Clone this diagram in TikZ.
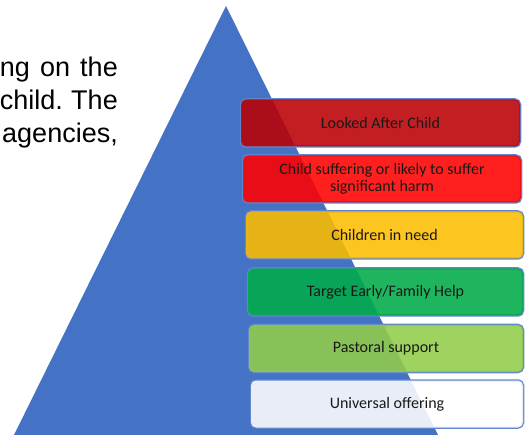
\documentclass[tikz,border=0pt]{standalone}
\usepackage{fontspec}
\setmainfont{Carlito}
\newfontfamily\arialfont{Liberation Sans}
\usepackage{tikz}
\frenchspacing

\definecolor{pyramidblue}{HTML}{4472C4}
\definecolor{lacred}{HTML}{BB0004}
\definecolor{harmred}{HTML}{FF0000}
\definecolor{needyellow}{HTML}{FDBD00}
\definecolor{helpgreen}{HTML}{00AB48}
\definecolor{pastoralgreen}{HTML}{91CD49}
\definecolor{universalwhite}{HTML}{FFFFFF}

\tikzset{
  tier/.style={rounded corners=5pt, minimum height=47pt, inner sep=0pt,
    fill opacity=0.88, text opacity=1, align=center, text=black!90,
    font=\fontsize{16}{17}\selectfont,
    preaction={draw=pyramidblue!85, line width=2.5pt}},
  bodytext/.style={anchor=base east, inner sep=0pt}
}

\begin{document}
\begin{tikzpicture}[x=1pt,y=-1pt]
          \useasboundingbox (0,0) rectangle (527,435);
          % Draw text cut at the left
          \node[bodytext, font=\arialfont\fontsize{27}{33}\selectfont] (lineone) at (118,77) {\makebox[118pt][s]{ng on the}};
          \node[bodytext, font=\arialfont\fontsize{27}{33}\selectfont] (linetwo) at (118,110) {\makebox[118pt][s]{child. The}};
          \node[bodytext, font=\arialfont\fontsize{27}{33}\selectfont] (linethree) at (118,143) {agencies,};
          % Draw pyramid
          \fill[pyramidblue] (226,6) -- (438,435) -- (14,435) -- cycle;
          % Draw tiers
          \node[tier, fill=lacred, minimum width=279pt] (lac) at (380.5,123) {Looked After Child};
          \node[tier, fill=harmred, minimum width=278pt] (harm) at (382,179) {Child suffering or likely to suffer\\significant harm};
          \node[tier, fill=needyellow, minimum width=277pt] (need) at (384.5,235) {Children in need};
          \node[tier, fill=helpgreen, minimum width=275pt] (help) at (385.5,292) {Target Early/Family Help};
          \node[tier, fill=pastoralgreen, minimum width=274pt] (pastoral) at (386,348.5) {Pastoral support};
          \node[tier, fill=universalwhite, minimum width=272pt] (universal) at (387,404) {Universal offering};
        \end{tikzpicture}
\end{document}
